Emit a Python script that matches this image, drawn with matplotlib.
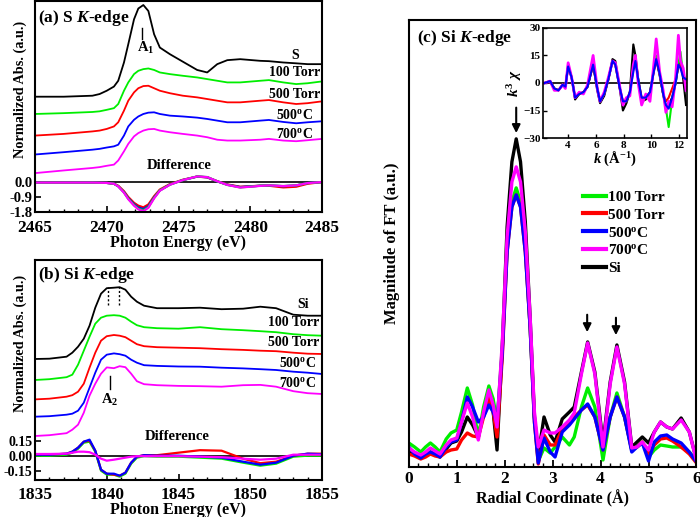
import numpy as np
import matplotlib
matplotlib.use("Agg")
import matplotlib.pyplot as plt
from matplotlib.ticker import MultipleLocator, FixedLocator

plt.rcParams['font.family'] = 'Liberation Serif'
plt.rcParams['font.weight'] = 'bold'
plt.rcParams['axes.labelweight'] = 'bold'
plt.rcParams['mathtext.fontset'] = 'custom'
plt.rcParams['mathtext.rm'] = 'Liberation Serif:bold'
plt.rcParams['mathtext.it'] = 'Liberation Serif:italic:bold'
plt.rcParams['mathtext.bf'] = 'Liberation Serif:bold'
plt.rcParams['axes.linewidth'] = 1.5
plt.rcParams['xtick.direction'] = 'in'
plt.rcParams['ytick.direction'] = 'in'

GREEN, RED, BLUE, MAGENTA, BLACK = '#00ee00', '#ff0000', '#0000ff', '#ff00ff', '#000000'

# ---------------- (a) S K-edge, stacked as plotted ----------------
e_a = [2465, 2467, 2469, 2469.5, 2470, 2470.5, 2470.8, 2471.2, 2471.5, 2471.9, 2472.2,
       2472.55, 2472.9, 2473.3, 2473.7, 2474.4, 2475.3, 2476.3, 2477.0, 2477.7, 2478.4,
       2479.3, 2480.7, 2481.3, 2482.3, 2483.2, 2484, 2485]
s_ref = [5.14, 5.14, 5.2, 5.3, 5.5, 5.75, 6.1, 7.2, 8.3, 9.8, 10.45, 10.66, 10.3, 8.9, 8.1,
         7.7, 7.25, 6.75, 6.6, 7.1, 7.34, 7.4, 7.3, 7.28, 7.2, 7.15, 7.1, 7.1]
s_100torr = [4.1, 4.15, 4.22, 4.26, 4.35, 4.45, 4.7, 5.5, 6.0, 6.5, 6.7, 6.8, 6.84, 6.75,
             6.6, 6.5, 6.4, 6.3, 6.2, 6.1, 6.0, 6.0, 6.1, 6.14, 6.0, 5.9, 5.95, 6.06]
s_500torr = [2.8, 2.9, 3.05, 3.1, 3.2, 3.35, 3.6, 4.3, 4.9, 5.4, 5.65, 5.78, 5.8, 5.65,
             5.5, 5.35, 5.2, 5.1, 5.0, 4.9, 4.8, 4.8, 4.9, 4.94, 4.8, 4.7, 4.75, 4.86]
s_500c = [1.66, 1.8, 1.95, 2.0, 2.08, 2.15, 2.25, 2.8, 3.35, 3.75, 3.95, 4.1, 4.18, 4.2,
          4.1, 4.0, 3.95, 3.88, 3.8, 3.7, 3.6, 3.6, 3.7, 3.74, 3.62, 3.54, 3.6, 3.66]
s_700c = [0.54, 0.7, 0.85, 0.9, 0.98, 1.05, 1.3, 1.85, 2.3, 2.75, 2.95, 3.1, 3.18, 3.2,
          3.1, 3.0, 2.9, 2.8, 2.7, 2.55, 2.5, 2.5, 2.55, 2.6, 2.5, 2.46, 2.52, 2.6]
d_a_100torr = [-0.03, -0.03, -0.03, -0.04, -0.05, -0.1, -0.25, -0.62, -1.0, -1.38, -1.6, -1.7,
               -1.5, -0.95, -0.5, -0.15, 0.12, 0.34, 0.3, 0.05, -0.17, -0.32, -0.22, -0.2,
               -0.24, -0.2, -0.06, 0.0]
d_a_500torr = [-0.03, -0.03, -0.03, -0.04, -0.05, -0.1, -0.22, -0.55, -0.9, -1.25, -1.42,
               -1.52, -1.35, -0.85, -0.45, -0.12, 0.14, 0.33, 0.28, 0.05, -0.14, -0.28,
               -0.22, -0.22, -0.32, -0.28, -0.1, 0.0]
d_a_500c = [-0.03, -0.03, -0.03, -0.04, -0.05, -0.1, -0.25, -0.6, -0.97, -1.33, -1.53, -1.62,
            -1.45, -0.92, -0.5, -0.15, 0.12, 0.33, 0.29, 0.04, -0.16, -0.3, -0.22, -0.2,
            -0.25, -0.2, -0.06, 0.0]
d_a_700c = [-0.03, -0.03, -0.03, -0.04, -0.05, -0.1, -0.26, -0.64, -1.03, -1.42, -1.64, -1.75,
            -1.55, -0.98, -0.52, -0.16, 0.12, 0.34, 0.3, 0.05, -0.17, -0.33, -0.23, -0.2,
            -0.24, -0.2, -0.06, 0.0]

# ---------------- (b) Si K-edge, stacked as plotted ----------------
e_b = [1835, 1836, 1837.2, 1837.6, 1838.0, 1838.4, 1838.8, 1839.2, 1839.6, 1840.0, 1840.5,
       1840.9, 1841.3, 1841.7, 1842.1, 1842.6, 1843.5, 1845, 1846.5, 1848, 1849.5, 1850.7,
       1851.8, 1853, 1854, 1855]
si_ref = [0.967, 0.97, 0.99, 1.03, 1.09, 1.17, 1.3, 1.48, 1.62, 1.675, 1.68, 1.685, 1.66, 1.59,
          1.54, 1.5, 1.475, 1.475, 1.48, 1.465, 1.47, 1.49, 1.475, 1.41, 1.4, 1.4]
si_100torr = [0.757, 0.765, 0.785, 0.81, 0.91, 1.05, 1.19, 1.32, 1.38, 1.4, 1.405, 1.4, 1.38,
              1.34, 1.305, 1.285, 1.275, 1.27, 1.285, 1.265, 1.255, 1.245, 1.235, 1.215,
              1.205, 1.2]
si_500torr = [0.563, 0.57, 0.59, 0.605, 0.64, 0.72, 0.88, 1.03, 1.15, 1.195, 1.207, 1.2, 1.185,
              1.15, 1.115, 1.095, 1.085, 1.08, 1.075, 1.065, 1.058, 1.05, 1.045, 1.03, 1.02,
              1.017]
si_500c = [0.39, 0.395, 0.41, 0.42, 0.45, 0.53, 0.68, 0.83, 0.96, 1.01, 1.023, 1.015, 1.0, 0.96,
           0.93, 0.905, 0.898, 0.892, 0.89, 0.88, 0.873, 0.865, 0.857, 0.84, 0.83, 0.817]
si_700c = [0.197, 0.205, 0.225, 0.26, 0.31, 0.43, 0.6, 0.72, 0.82, 0.883, 0.875, 0.895, 0.885,
           0.82, 0.745, 0.715, 0.705, 0.698, 0.695, 0.69, 0.705, 0.708, 0.69, 0.645, 0.625,
           0.617]
d_b_100torr = [0.0, 0.0, 0.01, 0.03, 0.07, 0.13, 0.14, 0.04, -0.15, -0.19, -0.19, -0.21,
               -0.18, -0.08, -0.02, -0.005, -0.01, -0.01, -0.02, -0.03, -0.07, -0.1, -0.08,
               -0.01, 0.0, 0.0]
d_b_500torr = [0.01, 0.01, 0.02, 0.04, 0.08, 0.14, 0.15, 0.05, -0.14, -0.18, -0.19, -0.2,
               -0.17, -0.07, -0.01, 0.005, 0.005, 0.03, 0.055, 0.05, -0.03, -0.075, -0.06,
               0.0, 0.02, 0.02]
d_b_500c = [0.01, 0.01, 0.02, 0.04, 0.08, 0.14, 0.16, 0.05, -0.14, -0.18, -0.18, -0.2, -0.17,
            -0.07, -0.01, 0.005, 0.0, 0.0, -0.01, -0.02, -0.06, -0.09, -0.07, 0.0, 0.02,
            0.015]
d_b_700c = [0.017, 0.017, 0.02, 0.03, 0.04, 0.04, 0.035, 0.01, -0.03, -0.05, -0.04, -0.03,
            -0.02, -0.01, -0.005, -0.005, -0.005, -0.005, -0.01, -0.015, -0.03, -0.04, -0.03,
            0.01, 0.01, 0.01]

# ---------------- (c) FT magnitude ----------------
r = [0.0, 0.12, 0.25, 0.35, 0.45, 0.55, 0.65, 0.78, 0.88, 1.0, 1.1, 1.22, 1.33, 1.45, 1.56,
     1.67, 1.76, 1.84, 1.95, 2.05, 2.15, 2.24, 2.33, 2.43, 2.53, 2.62, 2.7, 2.82, 2.95, 3.05,
     3.2, 3.35, 3.45, 3.6, 3.73, 3.88, 4.05, 4.2, 4.34, 4.5, 4.65, 4.76, 4.87, 5.0, 5.12,
     5.25, 5.38, 5.5, 5.68, 5.85, 6.0]
ft_si = [0.16, 0.13, 0.09, 0.12, 0.15, 0.13, 0.10, 0.18, 0.24, 0.26, 0.35, 0.50, 0.42, 0.30,
         0.55, 0.77, 0.55, 0.17, 1.2, 2.4, 3.05, 3.28, 3.05, 2.45, 1.5, 0.5, 0.12, 0.50, 0.32,
         0.25, 0.48, 0.55, 0.6, 0.95, 1.25, 0.95, 0.24, 0.85, 1.22, 0.85, 0.2, 0.25, 0.30,
         0.24, 0.35, 0.45, 0.40, 0.38, 0.49, 0.35, 0.07]
ft_700c = [0.19, 0.15, 0.12, 0.15, 0.19, 0.16, 0.13, 0.22, 0.27, 0.29, 0.45, 0.64, 0.50, 0.27,
           0.55, 0.77, 0.62, 0.40, 1.25, 2.3, 2.85, 3.0, 2.85, 2.35, 1.5, 0.55, 0.2, 0.37,
           0.34, 0.34, 0.40, 0.47, 0.54, 0.93, 1.24, 0.93, 0.20, 0.83, 1.2, 0.83, 0.19, 0.2,
           0.25, 0.17, 0.35, 0.45, 0.40, 0.38, 0.47, 0.35, 0.06]
ft_100torr = [0.24, 0.2, 0.15, 0.2, 0.24, 0.2, 0.15, 0.28, 0.34, 0.37, 0.55, 0.79, 0.62, 0.30,
              0.6, 0.81, 0.68, 0.44, 1.2, 2.2, 2.65, 2.79, 2.65, 2.2, 1.4, 0.5, 0.06, 0.19,
              0.14, 0.2, 0.30, 0.22, 0.3, 0.6, 0.79, 0.6, 0.07, 0.5, 0.74, 0.5, 0.17, 0.2,
              0.25, 0.10, 0.17, 0.22, 0.21, 0.2, 0.2, 0.15, 0.06]
ft_500c = [0.2, 0.13, 0.09, 0.13, 0.15, 0.13, 0.10, 0.2, 0.25, 0.27, 0.45, 0.70, 0.6, 0.45,
           0.50, 0.62, 0.55, 0.44, 1.15, 2.15, 2.6, 2.72, 2.6, 2.15, 1.4, 0.45, 0.04, 0.29,
           0.15, 0.1, 0.35, 0.42, 0.48, 0.57, 0.63, 0.5, 0.17, 0.5, 0.70, 0.5, 0.15, 0.2,
           0.24, 0.06, 0.25, 0.31, 0.32, 0.28, 0.24, 0.15, 0.05]
ft_500torr = [0.13, 0.11, 0.08, 0.1, 0.13, 0.11, 0.1, 0.15, 0.17, 0.18, 0.27, 0.34, 0.31, 0.30,
              0.5, 0.69, 0.55, 0.30, 1.1, 2.15, 2.6, 2.72, 2.6, 2.15, 1.4, 0.45, 0.03, 0.32,
              0.22, 0.22, 0.38, 0.45, 0.5, 0.57, 0.62, 0.5, 0.17, 0.5, 0.70, 0.5, 0.17, 0.2,
              0.25, 0.12, 0.22, 0.28, 0.29, 0.26, 0.20, 0.13, 0.04]

# ---------------- inset: k^3 chi ----------------
k = [2.3, 2.7, 3.0, 3.3, 3.6, 3.8, 4.0, 4.25, 4.5, 4.8, 5.1, 5.4, 5.8, 6.1, 6.3, 6.6, 6.9,
     7.2, 7.4, 7.7, 7.95, 8.2, 8.45, 8.7, 8.85, 9.05, 9.3, 9.6, 9.9, 10.15, 10.35, 10.6,
     10.85, 11.05, 11.25, 11.5, 11.75, 11.95, 12.1, 12.3, 12.5]
chi_si = [0, 1, -3, -4, -1, -2, 10, 3, -9, -6, -5, -2, 10, -4, -11, -7, 2, 13, 12, -2, -15,
          -11, -5, 21, 15, 2, -10, -9, -6, 6, 13, 4, -6, -13, -12, -8, 0, 10, 13, 2, -12]
chi_100torr = [0, 1, -3, -4, -1, -2, 9, 3, -8, -6, -5, -2, 11, -3, -10, -6, 2, 12, 10, -2,
               -11, -10, -5, 9, 13, 2, -9, -8, -5, 6, 15, 5, -6, -14, -24, -9, 0, 10, 17, 4, 0]
chi_500torr = [0, 1, -3, -4, -1, -2, 9, 3, -8, -6, -5, -2, 10, -3, -10, -6, 2, 12, 10, -2,
               -10, -10, -5, 8, 14, 2, -8, -8, -5, 5, 13, 5, -6, -10, -8, -3, 2, 9, 10, 4, 2]
chi_500c = [0, 1, -3, -4, -1, -2, 9, 3, -8, -6, -5, -2, 10, -3, -10, -6, 2, 12, 10, -2, -10,
            -10, -5, 6, 12, 2, -8, -8, -5, 5, 13, 5, -6, -12, -14, -8, 0, 10, 8, 3, 2]
chi_700c = [0, 1, -4, -4, -1, -3, 11, 3, -8, -5, -6, -1, 15, -3, -10, -5, 3, 12, 11, -1, -12,
            -8, -7, 10, 15, 0, -12, -6, -10, 8, 24, 6, -4, -16, -10, -13, 3, 26, 12, 8, -4]

labels = ['100 Torr', '500 Torr', r'500$^{\rm o}$C', r'700$^{\rm o}$C']
colors = [GREEN, RED, BLUE, MAGENTA]

fig = plt.figure(figsize=(7, 5.17), dpi=100)
ax_a = fig.add_axes([0.05, 0.590, 0.41, 0.408])
ax_b = fig.add_axes([0.05, 0.0716, 0.41, 0.4255])
ax_c = fig.add_axes([0.584, 0.0967, 0.411, 0.865])
ax_in = fig.add_axes([0.776, 0.733, 0.206, 0.213])

# ---- (a)
ax_a.axhline(0, color='k', lw=1.2)
ax_a.plot(e_a, s_ref, color=BLACK, lw=1.3)
for ys, c in zip([s_100torr, s_500torr, s_500c, s_700c], colors):
    ax_a.plot(e_a, ys, color=c, lw=1.3)
for ys, c in zip([d_a_500torr, d_a_500c, d_a_100torr, d_a_700c], [RED, BLUE, GREEN, MAGENTA]):
    ax_a.plot(e_a, ys, color=c, lw=1.6)
ax_a.set_xlim(2465, 2485)
ax_a.set_ylim(-1.8, 10.9)
ax_a.xaxis.set_major_locator(MultipleLocator(5))
ax_a.xaxis.set_minor_locator(MultipleLocator(1))
ax_a.yaxis.set_major_locator(FixedLocator([0.0, -0.9, -1.8]))
ax_a.set_yticklabels(['0.0', '-0.9', '-1.8'])
ax_a.tick_params(axis='x', labelsize=12.5, length=4, width=1.2, pad=6)
ax_a.tick_params(axis='x', which='minor', length=2.5, width=1)
ax_a.tick_params(axis='y', labelsize=10.5, length=4, width=1.2, pad=2)
ax_a.set_xlabel('Photon Energy (eV)', fontsize=11.5, labelpad=-1)
ax_a.set_ylabel('Normalized Abs. (a.u.)', fontsize=10.3)
ax_a.yaxis.set_label_coords(-0.027, 0.58)
ax_a.text(0.01, 0.965, r'(a) S $K$-edge', transform=ax_a.transAxes, fontsize=12.5,
          ha='left', va='top')
ax_a.plot([2472.45, 2472.45], [8.6, 9.3], color='k', lw=1)
ax_a.text(2472.7, 8.1, r'A$_1$', fontsize=10.5, ha='center', va='center')
for txt, yy in zip(['S', '100 Torr', '500 Torr', r'500$^{\rm o}$C', r'700$^{\rm o}$C'],
                   [7.6, 6.6, 5.3, 4.06, 2.9]):
    ax_a.text(2483.1, yy, txt, fontsize=10, ha='center', va='center')
ax_a.text(2475.05, 1.0, 'Difference', fontsize=10.5, ha='center', va='center')

# ---- (b)
ax_b.axhline(0, color='k', lw=1.2)
ax_b.plot(e_b, si_ref, color=BLACK, lw=1.3)
for ys, c in zip([si_100torr, si_500torr, si_500c, si_700c], colors):
    ax_b.plot(e_b, ys, color=c, lw=1.3)
for ys, c in zip([d_b_100torr, d_b_500torr, d_b_500c, d_b_700c], colors):
    ax_b.plot(e_b, ys, color=c, lw=1.6)
ax_b.set_xlim(1835, 1855)
ax_b.set_ylim(-0.243, 1.957)
ax_b.xaxis.set_major_locator(MultipleLocator(5))
ax_b.xaxis.set_minor_locator(MultipleLocator(1))
ax_b.yaxis.set_major_locator(FixedLocator([0.15, 0.0, -0.15]))
ax_b.set_yticklabels(['0.15', '0.00', '-0.15'])
ax_b.tick_params(axis='x', labelsize=12.5, length=4, width=1.2, pad=5)
ax_b.tick_params(axis='x', which='minor', length=2.5, width=1)
ax_b.tick_params(axis='y', labelsize=10, length=4, width=1.2, pad=2)
ax_b.set_xlabel('Photon Energy (eV)', fontsize=11.5, labelpad=-1)
ax_b.set_ylabel('Normalized Abs. (a.u.)', fontsize=10.3)
ax_b.yaxis.set_label_coords(-0.027, 0.62)
ax_b.text(0.01, 0.975, r'(b) Si $K$-edge', transform=ax_b.transAxes, fontsize=12.5,
          ha='left', va='top')
for xx in [1840.07, 1840.86]:
    ax_b.plot([xx, xx], [1.507, 1.683], color='k', lw=1, ls=(0, (1.5, 1.5)))
ax_b.plot([1840.23, 1840.23], [0.663, 0.797], color='k', lw=1)
ax_b.text(1840.23, 0.557, r'A$_2$', fontsize=10.5, ha='center', va='center')
for txt, xx, yy in zip(['Si', '100 Torr', '500 Torr', r'500$^{\rm o}$C', r'700$^{\rm o}$C'],
                       [1853.7, 1853.0, 1853.0, 1853.3, 1853.3],
                       [1.507, 1.33, 1.13, 0.923, 0.73]):
    ax_b.text(xx, yy, txt, fontsize=10, ha='center', va='center')
ax_b.text(1844.9, 0.19, 'Difference', fontsize=10.5, ha='center', va='center')

# ---- (c)
lw_c = 2.4
h_si, = ax_c.plot(r, ft_si, color=BLACK, lw=lw_c, label='Si')
h_100, = ax_c.plot(r, ft_100torr, color=GREEN, lw=lw_c, label='100 Torr')
h_500t, = ax_c.plot(r, ft_500torr, color=RED, lw=lw_c, label='500 Torr')
h_500c, = ax_c.plot(r, ft_500c, color=BLUE, lw=lw_c, label=r'500$^{\rm o}$C')
h_700c, = ax_c.plot(r, ft_700c, color=MAGENTA, lw=lw_c, label=r'700$^{\rm o}$C')
ax_c.set_xlim(0, 6)
ax_c.set_ylim(0, 4.47)
ax_c.xaxis.set_major_locator(MultipleLocator(1))
ax_c.xaxis.set_minor_locator(MultipleLocator(0.2))
ax_c.set_yticks([])
ax_c.tick_params(axis='x', labelsize=12.5, length=5, width=1.3, pad=3)
ax_c.tick_params(axis='x', which='minor', length=3, width=1)
ax_c.set_xlabel('Radial Coordinate (Å)', fontsize=11.5, labelpad=2)
ax_c.set_ylabel('Magnitude of FT (a.u.)', fontsize=12, labelpad=6)
ax_c.text(0.028, 0.982, r'(c) Si $K$-edge', transform=ax_c.transAxes, fontsize=12.5,
          ha='left', va='top')
for xx, y0, y1 in [(2.24, 3.62, 3.31), (3.72, 1.55, 1.32), (4.32, 1.52, 1.29)]:
    ax_c.annotate('', xy=(xx, y1), xytext=(xx, y0),
                  arrowprops=dict(arrowstyle='-|>', color='k', lw=1.5, mutation_scale=12))
leg = ax_c.legend(handles=[h_100, h_500t, h_500c, h_700c, h_si], loc='upper left',
                  bbox_to_anchor=(0.605, 0.618), frameon=False, fontsize=11,
                  handlelength=1.5, handletextpad=0.15, labelspacing=0.25, borderpad=0,
                  borderaxespad=0)
for ln in leg.get_lines():
    ln.set_linewidth(3)

# ---- inset
ax_in.axhline(0, color='k', lw=1.2)
for ys, c in zip([chi_si, chi_100torr, chi_500torr, chi_700c, chi_500c],
                 [BLACK, GREEN, RED, MAGENTA, BLUE]):
    ax_in.plot(k, ys, color=c, lw=1.5 if c != MAGENTA else 2.0)
ax_in.set_xlim(2.2, 12.6)
ax_in.set_ylim(-30, 30)
ax_in.xaxis.set_major_locator(MultipleLocator(2))
ax_in.yaxis.set_major_locator(MultipleLocator(15))
ax_in.tick_params(labelsize=8, length=3, width=1, pad=2)
ax_in.set_xlabel(r'$k$ ($\rm\AA^{-1}$)', fontsize=10.5, labelpad=0)
ax_in.set_ylabel(r'$k^3\ \chi$', fontsize=11, labelpad=-1)
for sp in ax_in.spines.values():
    sp.set_linewidth(1.2)

fig.savefig('out.png', dpi=100)
